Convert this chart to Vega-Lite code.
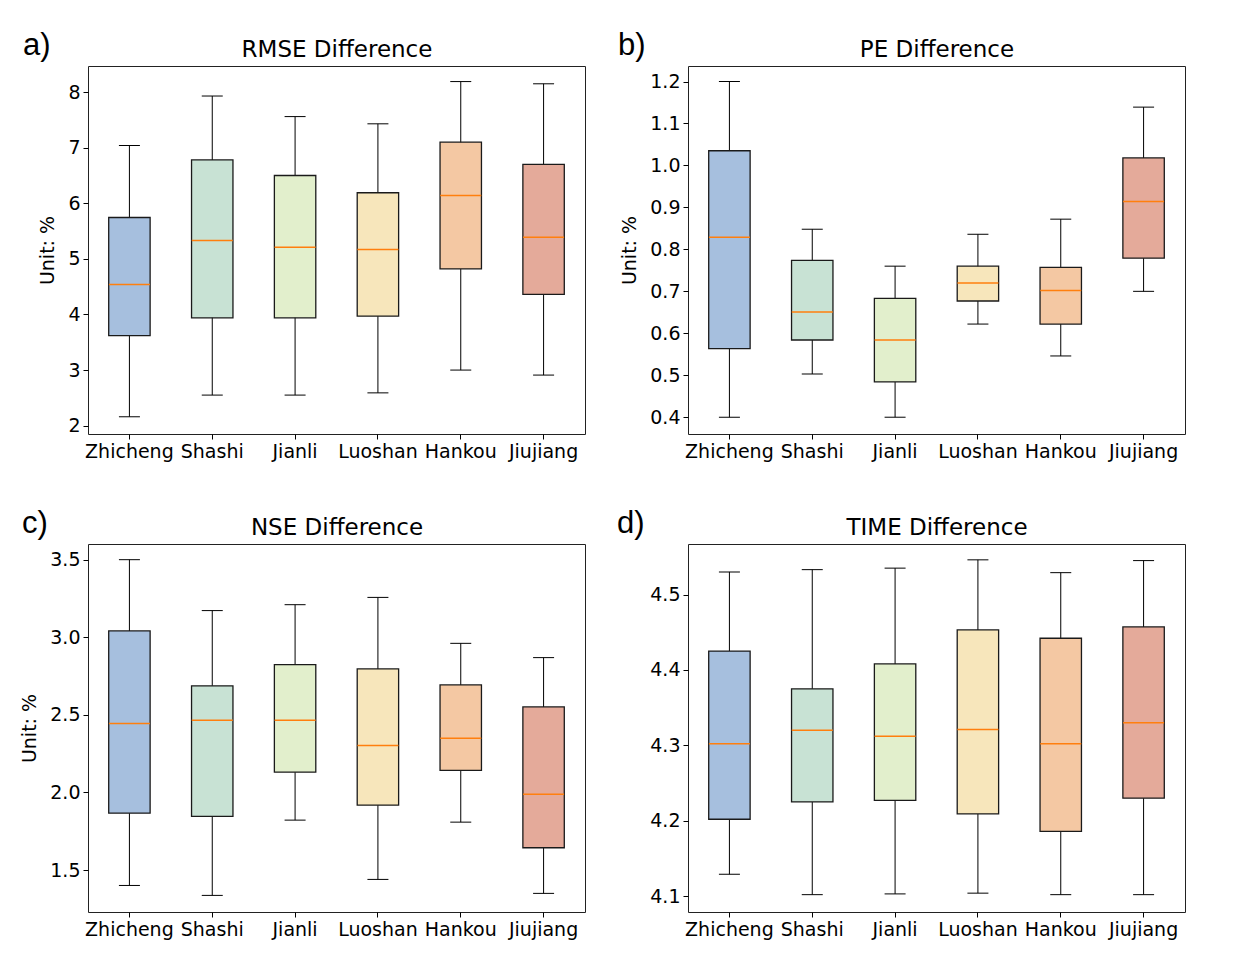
{
  "$schema": "https://vega.github.io/schema/vega-lite/v6.json",
  "padding": {"left": 20, "top": 29, "right": 10, "bottom": 5},
  "background": "white",
  "config": {
    "font": "DejaVu Sans",
    "view": {"stroke": "#222222", "strokeWidth": 1},
    "axis": {"labelFont": "DejaVu Sans", "titleFont": "DejaVu Sans", "labelColor": "black", "titleColor": "black", "tickColor": "black", "domain": false, "grid": false, "labelFontSize": 19, "titleFontSize": 19, "titleFontWeight": "normal", "tickSize": 5, "labelPadding": 3}
  },
  "datasets": {
    "rmse": [
      {"station": "Zhicheng", "min": 2.16, "q1": 3.62, "median": 4.54, "q3": 5.745, "max": 7.04},
      {"station": "Shashi", "min": 2.55, "q1": 3.94, "median": 5.33, "q3": 6.78, "max": 7.93},
      {"station": "Jianli", "min": 2.55, "q1": 3.94, "median": 5.21, "q3": 6.50, "max": 7.56},
      {"station": "Luoshan", "min": 2.59, "q1": 3.97, "median": 5.17, "q3": 6.19, "max": 7.43},
      {"station": "Hankou", "min": 3.00, "q1": 4.82, "median": 6.14, "q3": 7.10, "max": 8.19},
      {"station": "Jiujiang", "min": 2.91, "q1": 4.36, "median": 5.39, "q3": 6.70, "max": 8.15}
    ],
    "pe": [
      {"station": "Zhicheng", "min": 0.400, "q1": 0.5635, "median": 0.829, "q3": 1.035, "max": 1.200},
      {"station": "Shashi", "min": 0.503, "q1": 0.584, "median": 0.651, "q3": 0.774, "max": 0.848},
      {"station": "Jianli", "min": 0.400, "q1": 0.484, "median": 0.584, "q3": 0.683, "max": 0.760},
      {"station": "Luoshan", "min": 0.622, "q1": 0.677, "median": 0.720, "q3": 0.760, "max": 0.836},
      {"station": "Hankou", "min": 0.546, "q1": 0.622, "median": 0.702, "q3": 0.757, "max": 0.872},
      {"station": "Jiujiang", "min": 0.700, "q1": 0.779, "median": 0.914, "q3": 1.018, "max": 1.139}
    ],
    "nse": [
      {"station": "Zhicheng", "min": 1.401, "q1": 1.867, "median": 2.444, "q3": 3.041, "max": 3.500},
      {"station": "Shashi", "min": 1.337, "q1": 1.846, "median": 2.466, "q3": 2.687, "max": 3.172},
      {"station": "Jianli", "min": 1.822, "q1": 2.131, "median": 2.466, "q3": 2.824, "max": 3.210},
      {"station": "Luoshan", "min": 1.440, "q1": 1.918, "median": 2.302, "q3": 2.796, "max": 3.257},
      {"station": "Hankou", "min": 1.809, "q1": 2.142, "median": 2.350, "q3": 2.693, "max": 2.961},
      {"station": "Jiujiang", "min": 1.350, "q1": 1.644, "median": 1.989, "q3": 2.551, "max": 2.869}
    ],
    "time": [
      {"station": "Zhicheng", "min": 4.129, "q1": 4.202, "median": 4.302, "q3": 4.425, "max": 4.530},
      {"station": "Shashi", "min": 4.102, "q1": 4.225, "median": 4.320, "q3": 4.375, "max": 4.533},
      {"station": "Jianli", "min": 4.103, "q1": 4.227, "median": 4.312, "q3": 4.408, "max": 4.535},
      {"station": "Luoshan", "min": 4.104, "q1": 4.209, "median": 4.321, "q3": 4.453, "max": 4.546},
      {"station": "Hankou", "min": 4.102, "q1": 4.186, "median": 4.302, "q3": 4.442, "max": 4.529},
      {"station": "Jiujiang", "min": 4.102, "q1": 4.230, "median": 4.330, "q3": 4.457, "max": 4.545}
    ]
  },
  "columns": 2,
  "spacing": {"row": 110, "column": 103},
  "bounds": "flush",
  "concat": [
    {
      "width": 497, "height": 368,
      "data": {"name": "rmse"},
      "title": {"text": "a)", "anchor": "start", "frame": "group", "dx": -65, "dy": 48, "offset": 0, "baseline": "alphabetic", "font": "Liberation Sans", "fontSize": 31, "fontWeight": "normal", "color": "black"},
      "resolve": {"axis": {"x": "independent"}},
      "layer": [
        {"mark": {"type": "rule", "color": "black", "strokeWidth": 1},
         "encoding": {
           "x": {"field": "station", "type": "nominal", "sort": ["Zhicheng", "Shashi", "Jianli", "Luoshan", "Hankou", "Jiujiang"], "scale": {"paddingInner": 0, "paddingOuter": 0}, "axis": {"title": null, "labelAngle": 0, "orient": "bottom"}},
           "y": {"field": "min", "type": "quantitative", "scale": {"domain": [1.85, 8.47], "nice": false, "zero": false}, "axis": {"title": "Unit: %", "values": [2, 3, 4, 5, 6, 7, 8], "format": "d", "titlePadding": 10}},
           "y2": {"field": "max"}}},
        {"mark": {"type": "tick", "color": "black", "size": 21, "thickness": 1, "opacity": 1},
         "encoding": {"x": {"field": "station", "type": "nominal", "sort": ["Zhicheng", "Shashi", "Jianli", "Luoshan", "Hankou", "Jiujiang"], "axis": null}, "y": {"field": "min", "type": "quantitative"}}},
        {"mark": {"type": "tick", "color": "black", "size": 21, "thickness": 1, "opacity": 1},
         "encoding": {"x": {"field": "station", "type": "nominal", "sort": ["Zhicheng", "Shashi", "Jianli", "Luoshan", "Hankou", "Jiujiang"], "axis": null}, "y": {"field": "max", "type": "quantitative"}}},
        {"mark": {"type": "bar", "width": {"band": 0.5}, "stroke": "#1a1a1a", "strokeWidth": 1.3, "fillOpacity": 1},
         "encoding": {
           "x": {"field": "station", "type": "nominal", "sort": ["Zhicheng", "Shashi", "Jianli", "Luoshan", "Hankou", "Jiujiang"], "axis": null},
           "y": {"field": "q1", "type": "quantitative"}, "y2": {"field": "q3"},
           "fill": {"field": "station", "type": "nominal", "scale": {"domain": ["Zhicheng", "Shashi", "Jianli", "Luoshan", "Hankou", "Jiujiang"], "range": ["#a6bfde", "#c8e2d4", "#e2efcc", "#f7e6bb", "#f4c8a3", "#e4aa9a"]}, "legend": null}}},
        {"mark": {"type": "tick", "color": "#ff7f0e", "size": 41, "thickness": 1.5, "opacity": 1},
         "encoding": {
           "x": {"field": "station", "type": "nominal", "sort": ["Zhicheng", "Shashi", "Jianli", "Luoshan", "Hankou", "Jiujiang"], "axis": {"orient": "top", "title": "RMSE Difference", "labels": false, "ticks": false, "titleFontSize": 23, "titlePadding": 10, "titleBaseline": "alphabetic"}},
           "y": {"field": "median", "type": "quantitative"}}}
      ]
    },
    {
      "width": 497, "height": 368,
      "data": {"name": "pe"},
      "title": {"text": "b)", "anchor": "start", "frame": "group", "dx": -70, "dy": 48, "offset": 0, "baseline": "alphabetic", "font": "Liberation Sans", "fontSize": 31, "fontWeight": "normal", "color": "black"},
      "resolve": {"axis": {"x": "independent"}},
      "layer": [
        {"mark": {"type": "rule", "color": "black", "strokeWidth": 1},
         "encoding": {
           "x": {"field": "station", "type": "nominal", "sort": ["Zhicheng", "Shashi", "Jianli", "Luoshan", "Hankou", "Jiujiang"], "scale": {"paddingInner": 0, "paddingOuter": 0}, "axis": {"title": null, "labelAngle": 0, "orient": "bottom"}},
           "y": {"field": "min", "type": "quantitative", "scale": {"domain": [0.360, 1.237], "nice": false, "zero": false}, "axis": {"title": "Unit: %", "values": [0.4, 0.5, 0.6, 0.7, 0.8, 0.9, 1.0, 1.1, 1.2], "format": ".1f", "titlePadding": 10}},
           "y2": {"field": "max"}}},
        {"mark": {"type": "tick", "color": "black", "size": 21, "thickness": 1, "opacity": 1},
         "encoding": {"x": {"field": "station", "type": "nominal", "sort": ["Zhicheng", "Shashi", "Jianli", "Luoshan", "Hankou", "Jiujiang"], "axis": null}, "y": {"field": "min", "type": "quantitative"}}},
        {"mark": {"type": "tick", "color": "black", "size": 21, "thickness": 1, "opacity": 1},
         "encoding": {"x": {"field": "station", "type": "nominal", "sort": ["Zhicheng", "Shashi", "Jianli", "Luoshan", "Hankou", "Jiujiang"], "axis": null}, "y": {"field": "max", "type": "quantitative"}}},
        {"mark": {"type": "bar", "width": {"band": 0.5}, "stroke": "#1a1a1a", "strokeWidth": 1.3, "fillOpacity": 1},
         "encoding": {
           "x": {"field": "station", "type": "nominal", "sort": ["Zhicheng", "Shashi", "Jianli", "Luoshan", "Hankou", "Jiujiang"], "axis": null},
           "y": {"field": "q1", "type": "quantitative"}, "y2": {"field": "q3"},
           "fill": {"field": "station", "type": "nominal", "scale": {"domain": ["Zhicheng", "Shashi", "Jianli", "Luoshan", "Hankou", "Jiujiang"], "range": ["#a6bfde", "#c8e2d4", "#e2efcc", "#f7e6bb", "#f4c8a3", "#e4aa9a"]}, "legend": null}}},
        {"mark": {"type": "tick", "color": "#ff7f0e", "size": 41, "thickness": 1.5, "opacity": 1},
         "encoding": {
           "x": {"field": "station", "type": "nominal", "sort": ["Zhicheng", "Shashi", "Jianli", "Luoshan", "Hankou", "Jiujiang"], "axis": {"orient": "top", "title": "PE Difference", "labels": false, "ticks": false, "titleFontSize": 23, "titlePadding": 10, "titleBaseline": "alphabetic"}},
           "y": {"field": "median", "type": "quantitative"}}}
      ]
    },
    {
      "width": 497, "height": 368,
      "data": {"name": "nse"},
      "title": {"text": "c)", "anchor": "start", "frame": "group", "dx": -66, "dy": 48, "offset": 0, "baseline": "alphabetic", "font": "Liberation Sans", "fontSize": 31, "fontWeight": "normal", "color": "black"},
      "resolve": {"axis": {"x": "independent"}},
      "layer": [
        {"mark": {"type": "rule", "color": "black", "strokeWidth": 1},
         "encoding": {
           "x": {"field": "station", "type": "nominal", "sort": ["Zhicheng", "Shashi", "Jianli", "Luoshan", "Hankou", "Jiujiang"], "scale": {"paddingInner": 0, "paddingOuter": 0}, "axis": {"title": null, "labelAngle": 0, "orient": "bottom"}},
           "y": {"field": "min", "type": "quantitative", "scale": {"domain": [1.230, 3.601], "nice": false, "zero": false}, "axis": {"title": "Unit: %", "values": [1.5, 2.0, 2.5, 3.0, 3.5], "format": ".1f", "titlePadding": 10}},
           "y2": {"field": "max"}}},
        {"mark": {"type": "tick", "color": "black", "size": 21, "thickness": 1, "opacity": 1},
         "encoding": {"x": {"field": "station", "type": "nominal", "sort": ["Zhicheng", "Shashi", "Jianli", "Luoshan", "Hankou", "Jiujiang"], "axis": null}, "y": {"field": "min", "type": "quantitative"}}},
        {"mark": {"type": "tick", "color": "black", "size": 21, "thickness": 1, "opacity": 1},
         "encoding": {"x": {"field": "station", "type": "nominal", "sort": ["Zhicheng", "Shashi", "Jianli", "Luoshan", "Hankou", "Jiujiang"], "axis": null}, "y": {"field": "max", "type": "quantitative"}}},
        {"mark": {"type": "bar", "width": {"band": 0.5}, "stroke": "#1a1a1a", "strokeWidth": 1.3, "fillOpacity": 1},
         "encoding": {
           "x": {"field": "station", "type": "nominal", "sort": ["Zhicheng", "Shashi", "Jianli", "Luoshan", "Hankou", "Jiujiang"], "axis": null},
           "y": {"field": "q1", "type": "quantitative"}, "y2": {"field": "q3"},
           "fill": {"field": "station", "type": "nominal", "scale": {"domain": ["Zhicheng", "Shashi", "Jianli", "Luoshan", "Hankou", "Jiujiang"], "range": ["#a6bfde", "#c8e2d4", "#e2efcc", "#f7e6bb", "#f4c8a3", "#e4aa9a"]}, "legend": null}}},
        {"mark": {"type": "tick", "color": "#ff7f0e", "size": 41, "thickness": 1.5, "opacity": 1},
         "encoding": {
           "x": {"field": "station", "type": "nominal", "sort": ["Zhicheng", "Shashi", "Jianli", "Luoshan", "Hankou", "Jiujiang"], "axis": {"orient": "top", "title": "NSE Difference", "labels": false, "ticks": false, "titleFontSize": 23, "titlePadding": 10, "titleBaseline": "alphabetic"}},
           "y": {"field": "median", "type": "quantitative"}}}
      ]
    },
    {
      "width": 497, "height": 368,
      "data": {"name": "time"},
      "title": {"text": "d)", "anchor": "start", "frame": "group", "dx": -71, "dy": 48, "offset": 0, "baseline": "alphabetic", "font": "Liberation Sans", "fontSize": 31, "fontWeight": "normal", "color": "black"},
      "resolve": {"axis": {"x": "independent"}},
      "layer": [
        {"mark": {"type": "rule", "color": "black", "strokeWidth": 1},
         "encoding": {
           "x": {"field": "station", "type": "nominal", "sort": ["Zhicheng", "Shashi", "Jianli", "Luoshan", "Hankou", "Jiujiang"], "scale": {"paddingInner": 0, "paddingOuter": 0}, "axis": {"title": null, "labelAngle": 0, "orient": "bottom"}},
           "y": {"field": "min", "type": "quantitative", "scale": {"domain": [4.079, 4.567], "nice": false, "zero": false}, "axis": {"title": null, "values": [4.1, 4.2, 4.3, 4.4, 4.5], "format": ".1f"}},
           "y2": {"field": "max"}}},
        {"mark": {"type": "tick", "color": "black", "size": 21, "thickness": 1, "opacity": 1},
         "encoding": {"x": {"field": "station", "type": "nominal", "sort": ["Zhicheng", "Shashi", "Jianli", "Luoshan", "Hankou", "Jiujiang"], "axis": null}, "y": {"field": "min", "type": "quantitative"}}},
        {"mark": {"type": "tick", "color": "black", "size": 21, "thickness": 1, "opacity": 1},
         "encoding": {"x": {"field": "station", "type": "nominal", "sort": ["Zhicheng", "Shashi", "Jianli", "Luoshan", "Hankou", "Jiujiang"], "axis": null}, "y": {"field": "max", "type": "quantitative"}}},
        {"mark": {"type": "bar", "width": {"band": 0.5}, "stroke": "#1a1a1a", "strokeWidth": 1.3, "fillOpacity": 1},
         "encoding": {
           "x": {"field": "station", "type": "nominal", "sort": ["Zhicheng", "Shashi", "Jianli", "Luoshan", "Hankou", "Jiujiang"], "axis": null},
           "y": {"field": "q1", "type": "quantitative"}, "y2": {"field": "q3"},
           "fill": {"field": "station", "type": "nominal", "scale": {"domain": ["Zhicheng", "Shashi", "Jianli", "Luoshan", "Hankou", "Jiujiang"], "range": ["#a6bfde", "#c8e2d4", "#e2efcc", "#f7e6bb", "#f4c8a3", "#e4aa9a"]}, "legend": null}}},
        {"mark": {"type": "tick", "color": "#ff7f0e", "size": 41, "thickness": 1.5, "opacity": 1},
         "encoding": {
           "x": {"field": "station", "type": "nominal", "sort": ["Zhicheng", "Shashi", "Jianli", "Luoshan", "Hankou", "Jiujiang"], "axis": {"orient": "top", "title": "TIME Difference", "labels": false, "ticks": false, "titleFontSize": 23, "titlePadding": 10, "titleBaseline": "alphabetic"}},
           "y": {"field": "median", "type": "quantitative"}}}
      ]
    }
  ]
}
